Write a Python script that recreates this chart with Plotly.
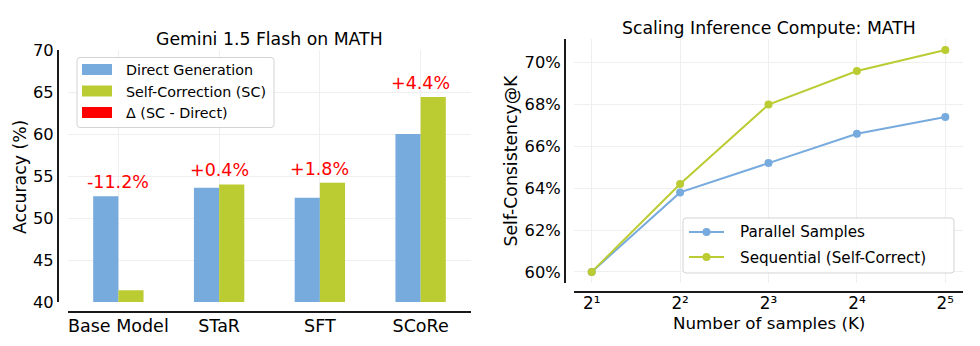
import plotly.graph_objects as go

# ---------------- data ----------------
categories = ["Base Model", "STaR", "SFT", "SCoRe"]
direct_generation = [52.6, 53.6, 52.4, 60.0]
self_correction = [41.4, 54.0, 54.2, 64.4]
left_yticks = [40, 45, 50, 55, 60, 65, 70]

k_exponents = [1, 2, 3, 4, 5]
k_ticklabels = ["2¹", "2²", "2³", "2⁴", "2⁵"]
parallel_samples = [60.0, 63.8, 65.2, 66.6, 67.4]
sequential_samples = [60.0, 64.2, 68.0, 69.6, 70.6]
right_yticks = [60, 62, 64, 66, 68, 70]
right_yticklabels = ["60%", "62%", "64%", "66%", "68%", "70%"]

# ---------------- styles ----------------
W, H = 980, 346
BLUE = "#77AADD"
GREEN = "#BBCC33"
RED = "#FF0000"
GRID = "#EFEFEF"
SPINE = "#1A1A1A"
FONT = "DejaVu Sans"


def px(x):
    return x / W


def py(y):
    return 1 - y / H


fig = go.Figure()

fig.add_trace(go.Bar(x=categories, y=direct_generation, name="Direct Generation",
                     marker=dict(color=BLUE, line=dict(width=0)), xaxis="x", yaxis="y",
                     showlegend=False))
fig.add_trace(go.Bar(x=categories, y=self_correction, name="Self-Correction (SC)",
                     marker=dict(color=GREEN, line=dict(width=0)), xaxis="x", yaxis="y",
                     showlegend=False))

fig.add_trace(go.Scatter(x=k_exponents, y=parallel_samples, name="Parallel Samples",
                         mode="lines+markers", line=dict(color=BLUE, width=2),
                         marker=dict(color=BLUE, size=8), xaxis="x2", yaxis="y2",
                         showlegend=False))
fig.add_trace(go.Scatter(x=k_exponents, y=sequential_samples, name="Sequential (Self-Correct)",
                         mode="lines+markers", line=dict(color=GREEN, width=2),
                         marker=dict(color=GREEN, size=8), xaxis="x2", yaxis="y2",
                         showlegend=False))

annotations = []
for cat, d, s in zip(categories, direct_generation, self_correction):
    annotations.append(dict(x=cat, y=max(d, s), xref="x", yref="y",
                            text=f"{s - d:+.1f}%", showarrow=False,
                            xanchor="center", yanchor="bottom", yshift=2,
                            font=dict(family=FONT, size=17.5, color=RED)))

def text_ann(x, y, text, size, angle=0, anchor="center"):
    return dict(x=px(x), y=py(y), xref="paper", yref="paper", text=text,
                showarrow=False, xanchor=anchor, yanchor="middle", textangle=angle,
                font=dict(family=FONT, size=size, color="#000000"))

annotations += [
    text_ann(269.5, 39, "Gemini 1.5 Flash on MATH", 17.3),
    text_ann(768.5, 28, "Scaling Inference Compute: MATH", 17.3),
    text_ann(20, 177, "Accuracy (%)", 17.3, -90),
    text_ann(510.5, 161, "Self-Consistency@K", 17.3, -90),
    text_ann(768.5, 323, "Number of samples (K)", 16.7),
]

shapes = []


def rounded_box(x0, y0, x1, y1, r=3):
    rx, ry = r / W, r / H
    X0, X1 = px(x0), px(x1)
    Y0, Y1 = py(y0), py(y1)  # Y0 top, Y1 bottom
    path = (f"M{X0 + rx},{Y0} L{X1 - rx},{Y0} Q{X1},{Y0} {X1},{Y0 - ry} "
            f"L{X1},{Y1 + ry} Q{X1},{Y1} {X1 - rx},{Y1} L{X0 + rx},{Y1} "
            f"Q{X0},{Y1} {X0},{Y1 + ry} L{X0},{Y0 - ry} Q{X0},{Y0} {X0 + rx},{Y0} Z")
    return dict(type="path", path=path, xref="paper", yref="paper",
                fillcolor="rgba(255,255,255,0.85)", line=dict(color="#D3D3D3", width=1),
                layer="above")


# left legend
shapes.append(rounded_box(77, 57.5, 274, 127.5))
left_legend = [("Direct Generation", BLUE, 69.5), ("Self-Correction (SC)", GREEN, 91),
               ("Δ (SC - Direct)", RED, 112.5)]
for label, col, yc in left_legend:
    shapes.append(dict(type="rect", xref="paper", yref="paper", x0=px(82), x1=px(112),
                       y0=py(yc - 5.5), y1=py(yc + 5.5), fillcolor=col,
                       line=dict(width=0), layer="above"))
    annotations.append(text_ann(124, yc + 0.5, label, 14.3, anchor="left"))

# right legend
shapes.append(rounded_box(683, 218, 954, 273))
right_legend = [("Parallel Samples", BLUE, 232), ("Sequential (Self-Correct)", GREEN, 257)]
for label, col, yc in right_legend:
    shapes.append(dict(type="line", xref="paper", yref="paper", x0=px(689), x1=px(724),
                       y0=py(yc), y1=py(yc), line=dict(color=col, width=2), layer="above"))
    shapes.append(dict(type="circle", xref="paper", yref="paper",
                       x0=px(706.5 - 4), x1=px(706.5 + 4), y0=py(yc - 4), y1=py(yc + 4),
                       fillcolor=col, line=dict(width=0), layer="above"))
    annotations.append(text_ann(738, yc + 0.5, label, 15.2, anchor="left"))

axis_common = dict(showline=True, linecolor=SPINE, linewidth=2, showgrid=True,
                   gridcolor=GRID, gridwidth=1, zeroline=False, ticks="",
                   automargin=False, fixedrange=True)

fig.update_layout(
    width=W, height=H,
    margin=dict(l=0, r=0, t=0, b=0),
    paper_bgcolor="white", plot_bgcolor="white",
    font=dict(family=FONT, color="#000000"),
    barmode="group", bargap=0.5, bargroupgap=0,
    showlegend=False,
    xaxis=dict(domain=[px(68), px(471)], anchor="free", position=py(312),
               type="category", range=[-0.5, 3.5], ticklabelstandoff=-2,
               tickfont=dict(size=17.5, color="#000000"), **axis_common),
    yaxis=dict(domain=[py(302), py(50)], anchor="free", position=px(58),
               range=[40, 70], tickvals=left_yticks,
               tickfont=dict(size=16.3, color="#000000"), **axis_common),
    xaxis2=dict(domain=[px(574), px(963)], anchor="free", position=py(292),
                range=[0.8, 5.2], tickvals=k_exponents, ticktext=k_ticklabels,
                ticklabelstandoff=-4,
                tickfont=dict(size=16.8, color="#000000"), **axis_common),
    yaxis2=dict(domain=[py(283), py(39)], anchor="free", position=px(565),
                range=[59.47, 71.13], tickvals=right_yticks, ticktext=right_yticklabels,
                tickfont=dict(size=16.3, color="#000000"), **axis_common),
    annotations=annotations,
    shapes=shapes,
)

fig.write_html("out.html", config={"displayModeBar": False})
